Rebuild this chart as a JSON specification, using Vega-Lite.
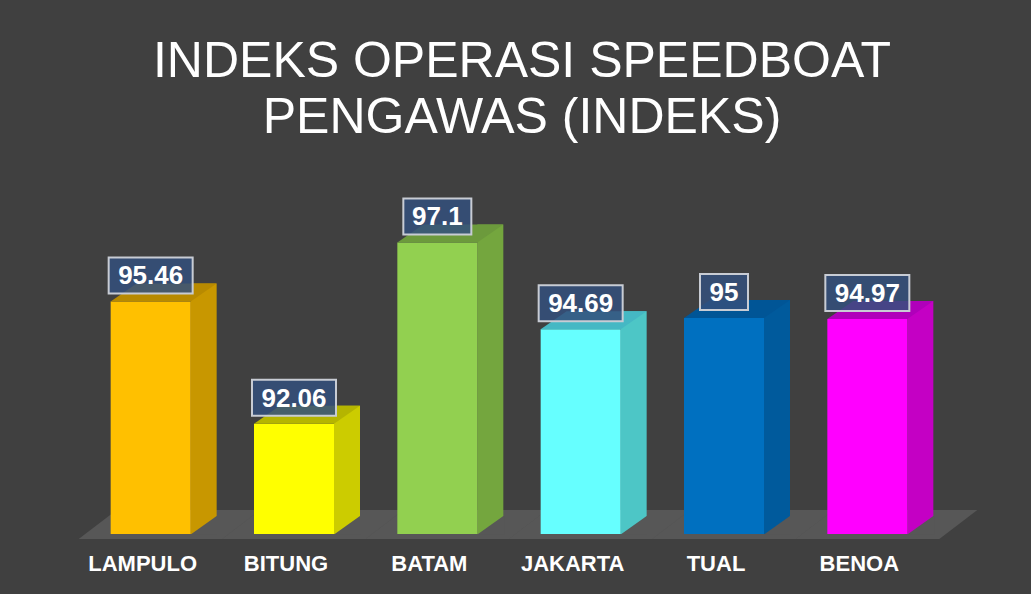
{
  "$schema": "https://vega.github.io/schema/vega-lite/v6.json",
  "autosize": {"type": "none"},
  "width": 860,
  "height": 360,
  "padding": {"left": 79, "top": 174, "right": 92, "bottom": 60},
  "background": "#404040",
  "config": {"view": {"stroke": null}},
  "title": {
    "text": ["INDEKS OPERASI SPEEDBOAT", "PENGAWAS (INDEKS)"],
    "font": "Liberation Sans",
    "fontSize": 50,
    "fontWeight": "normal",
    "color": "#ffffff",
    "lineHeight": 56,
    "anchor": "middle",
    "frame": "group",
    "dx": 13,
    "offset": 31
  },
  "data": {
    "values": [
      {"lokasi": "LAMPULO", "indeks": 95.46},
      {"lokasi": "BITUNG", "indeks": 92.06},
      {"lokasi": "BATAM", "indeks": 97.1},
      {"lokasi": "JAKARTA", "indeks": 94.69},
      {"lokasi": "TUAL", "indeks": 95},
      {"lokasi": "BENOA", "indeks": 94.97}
    ]
  },
  "encoding": {
    "x": {
      "field": "lokasi",
      "type": "nominal",
      "sort": null,
      "scale": {"paddingInner": 0, "paddingOuter": 0},
      "axis": {
        "title": null,
        "domain": false,
        "ticks": false,
        "labelAngle": 0,
        "labelFont": "Liberation Sans",
        "labelFontWeight": "bold",
        "labelFontSize": 22,
        "labelColor": "#ffffff",
        "labelPadding": 19,
        "labelOffset": -8,
        "labelLimit": 300,
        "grid": false
      }
    },
    "y": {
      "field": "indeks",
      "type": "quantitative",
      "scale": {"domain": [89, 99], "zero": false, "nice": false},
      "axis": null
    }
  },
  "layer": [
    {
      "mark": {
        "type": "point",
        "shape": "M-0.6545,0.04545L0.6545,0.04545L1,-0.2182L-0.3091,-0.2182Z",
        "size": 48400,
        "filled": true,
        "opacity": 1,
        "color": "#575757"
      },
      "encoding": {"y": {"datum": 89}}
    },
    {
      "mark": {"type": "bar", "width": 26, "xOffset": 53, "yOffset": -18, "y2Offset": 0, "opacity": 1},
      "encoding": {
        "y2": {"datum": 89},
        "color": {
          "field": "lokasi",
          "type": "nominal",
          "sort": null,
          "legend": null,
          "scale": {
            "domain": ["LAMPULO", "BITUNG", "BATAM", "JAKARTA", "TUAL", "BENOA"],
            "range": ["#C89700", "#CCCC00", "#74A63E", "#4DC6C6", "#005A9C", "#C400C4"]
          }
        }
      }
    },
    {
      "mark": {
        "type": "point",
        "shape": "M0.597,0.0075L0.985,-0.2687L1,-0.2687L1,0.0075Z",
        "size": 17956,
        "filled": true,
        "opacity": 1,
        "color": "#575757"
      },
      "encoding": {"y": {"datum": 89}}
    },
    {
      "mark": {"type": "bar", "width": 80, "opacity": 1},
      "encoding": {
        "y2": {"datum": 89},
        "color": {
          "field": "lokasi",
          "type": "nominal",
          "sort": null,
          "legend": null,
          "scale": {
            "domain": ["LAMPULO", "BITUNG", "BATAM", "JAKARTA", "TUAL", "BENOA"],
            "range": ["#FFC000", "#FFFF00", "#92D050", "#66FFFF", "#0070C0", "#FF00FF"]
          }
        }
      }
    },
    {
      "mark": {
        "type": "point",
        "shape": "M-0.6061,0L0.6061,0L1,-0.2727L-0.2121,-0.2727Z",
        "size": 17424,
        "filled": true,
        "opacity": 1
      },
      "encoding": {
        "color": {
          "field": "lokasi",
          "type": "nominal",
          "sort": null,
          "legend": null,
          "scale": {
            "domain": ["LAMPULO", "BITUNG", "BATAM", "JAKARTA", "TUAL", "BENOA"],
            "range": ["#B88A00", "#B5B500", "#6C9A3C", "#45B8C4", "#005596", "#B000BA"]
          }
        }
      }
    },
    {
      "transform": [{"filter": "length(toString(datum.indeks)) == 5"}],
      "mark": {
        "type": "point",
        "shape": "M-1,-0.4286L1,-0.4286L1,0.4286L-1,0.4286Z",
        "size": 7056,
        "filled": true,
        "fill": "#34507d",
        "fillOpacity": 0.85,
        "stroke": "#c8ccd4",
        "strokeWidth": 2,
        "opacity": 1,
        "yOffset": -26
      }
    },
    {
      "transform": [{"filter": "length(toString(datum.indeks)) == 4"}],
      "mark": {
        "type": "point",
        "shape": "M-1,-0.5294L1,-0.5294L1,0.5294L-1,0.5294Z",
        "size": 4624,
        "filled": true,
        "fill": "#34507d",
        "fillOpacity": 0.85,
        "stroke": "#c8ccd4",
        "strokeWidth": 2,
        "opacity": 1,
        "yOffset": -26
      }
    },
    {
      "transform": [{"filter": "length(toString(datum.indeks)) == 2"}],
      "mark": {
        "type": "point",
        "shape": "M-1,-0.75L1,-0.75L1,0.75L-1,0.75Z",
        "size": 2304,
        "filled": true,
        "fill": "#34507d",
        "fillOpacity": 0.85,
        "stroke": "#c8ccd4",
        "strokeWidth": 2,
        "opacity": 1,
        "yOffset": -26
      }
    },
    {
      "mark": {
        "type": "text",
        "font": "Liberation Sans",
        "fontWeight": "bold",
        "fontSize": 26,
        "color": "#ffffff",
        "baseline": "middle",
        "align": "center",
        "dy": -25
      },
      "encoding": {
        "text": {"field": "indeks", "type": "quantitative"}
      }
    }
  ],
  "resolve": {"scale": {"color": "independent"}}
}
